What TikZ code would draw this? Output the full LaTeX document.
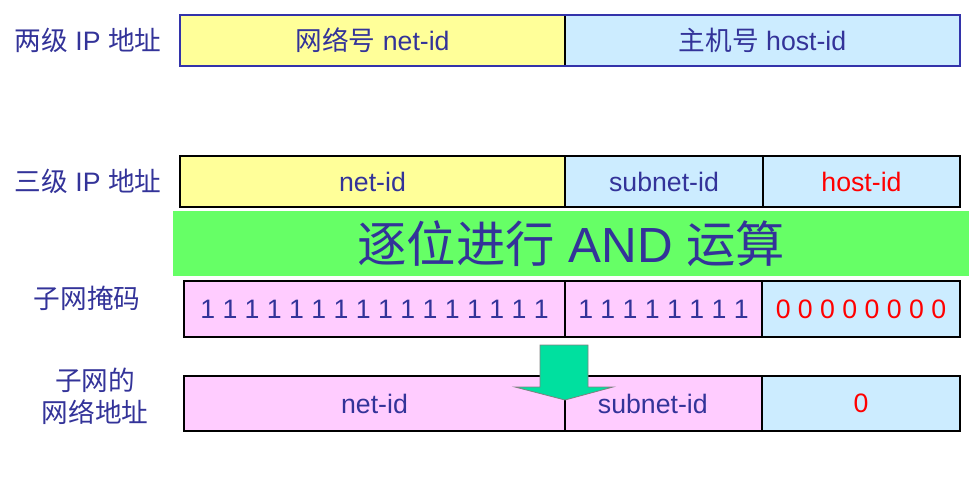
\documentclass[tikz,border=0pt]{standalone}
\usepackage{fontspec}
\setmainfont{Liberation Sans}
\newfontfamily\cjk{Noto Sans CJK SC}
\definecolor{idblue}{HTML}{333399}
\definecolor{frameblue}{HTML}{3333AA}
\definecolor{netyellow}{HTML}{FFFF99}
\definecolor{hostblue}{HTML}{CCECFF}
\definecolor{maskpink}{HTML}{FFCCFF}
\definecolor{bandgreen}{HTML}{66FF66}
\definecolor{arrowgreen}{HTML}{00E09F}
\def\px{0.75pt}

\begin{document}
\begin{tikzpicture}[
    x=\px, y=-\px,
    field/.style={
      draw=black, line width=0.8pt, anchor=west,
      inner sep=0pt, outer sep=0pt,
      text=idblue, font=\fontsize{20}{24}\selectfont
    },
    rowlabel/.style={
      text=idblue, align=center, font=\fontsize{20}{24}\selectfont
    }
  ]
    \useasboundingbox (0,0) rectangle (979,480);
    \def\rowA{40.5}
    \def\rowB{181.5}
    \def\rowC{309}
    \def\rowD{403.5}

    % two-level address
    \node[field, fill=netyellow, minimum width=385*\px, minimum height=51*\px]
      (netA) at (180,\rowA) {{\cjk 网络号} net-id};
    \node[field, fill=hostblue, minimum width=395*\px, minimum height=51*\px]
      (hostA) at (565,\rowA) {{\cjk 主机号} host-id};
    \draw[frameblue, line width=0.8pt] (netA.north west) rectangle (hostA.south east);

    % three-level address
    \node[field, fill=netyellow, minimum width=385*\px, minimum height=51*\px]
      (netB) at (180,\rowB) {net-id};
    \node[field, fill=hostblue, minimum width=198*\px, minimum height=51*\px]
      (subB) at (565,\rowB) {subnet-id};
    \node[field, fill=hostblue, minimum width=197*\px, minimum height=51*\px, text=red]
      (hostB) at (763,\rowB) {host-id};

    \node[fill=bandgreen, anchor=north west, inner sep=0pt,
      minimum width=796*\px, minimum height=65*\px,
      text=idblue, font=\fontsize{37}{40}\selectfont]
      (band) at (173,211) {{\cjk 逐位进行} AND {\cjk 运算}};

    % subnet mask
    \node[field, fill=maskpink, minimum width=381*\px, minimum height=56*\px]
      (netC) at (184,\rowC) {1 1 1 1 1 1 1 1 1 1 1 1 1 1 1 1};
    \node[field, fill=maskpink, minimum width=197*\px, minimum height=56*\px]
      (subC) at (565,\rowC) {1 1 1 1 1 1 1 1};
    \node[field, fill=hostblue, minimum width=198*\px, minimum height=56*\px, text=red]
      (hostC) at (762,\rowC) {0 0 0 0 0 0 0 0};

    % subnet network address
    \node[field, fill=maskpink, minimum width=381*\px, minimum height=55*\px]
      (netD) at (184,\rowD) {net-id};
    \node[field, fill=maskpink, minimum width=197*\px, minimum height=55*\px]
      (subD) at (565,\rowD) {\hspace*{-16pt}subnet-id};
    \node[field, fill=hostblue, minimum width=198*\px, minimum height=55*\px, text=red]
      (hostD) at (762,\rowD) {0};

    \coordinate (tip) at (565,400);
    \draw[fill=arrowgreen, draw=gray, line width=0.6pt]
      (540,345) -- (588,345) -- (588,387) -- (613,387) -- (tip)
      -- (515,387) -- (540,387) -- cycle;

    \node[rowlabel] (labA) at (88,\rowA) {{\cjk 两级} IP {\cjk 地址}};
    \node[rowlabel] (labB) at (88,\rowB) {{\cjk 三级} IP {\cjk 地址}};
    \node[rowlabel] (labC) at (87,298) {\cjk 子网掩码};
    \node[rowlabel, font=\fontsize{20}{24}\selectfont\cjk] (labD) at (95,396) {子网的\\网络地址};
  \end{tikzpicture}
\end{document}
